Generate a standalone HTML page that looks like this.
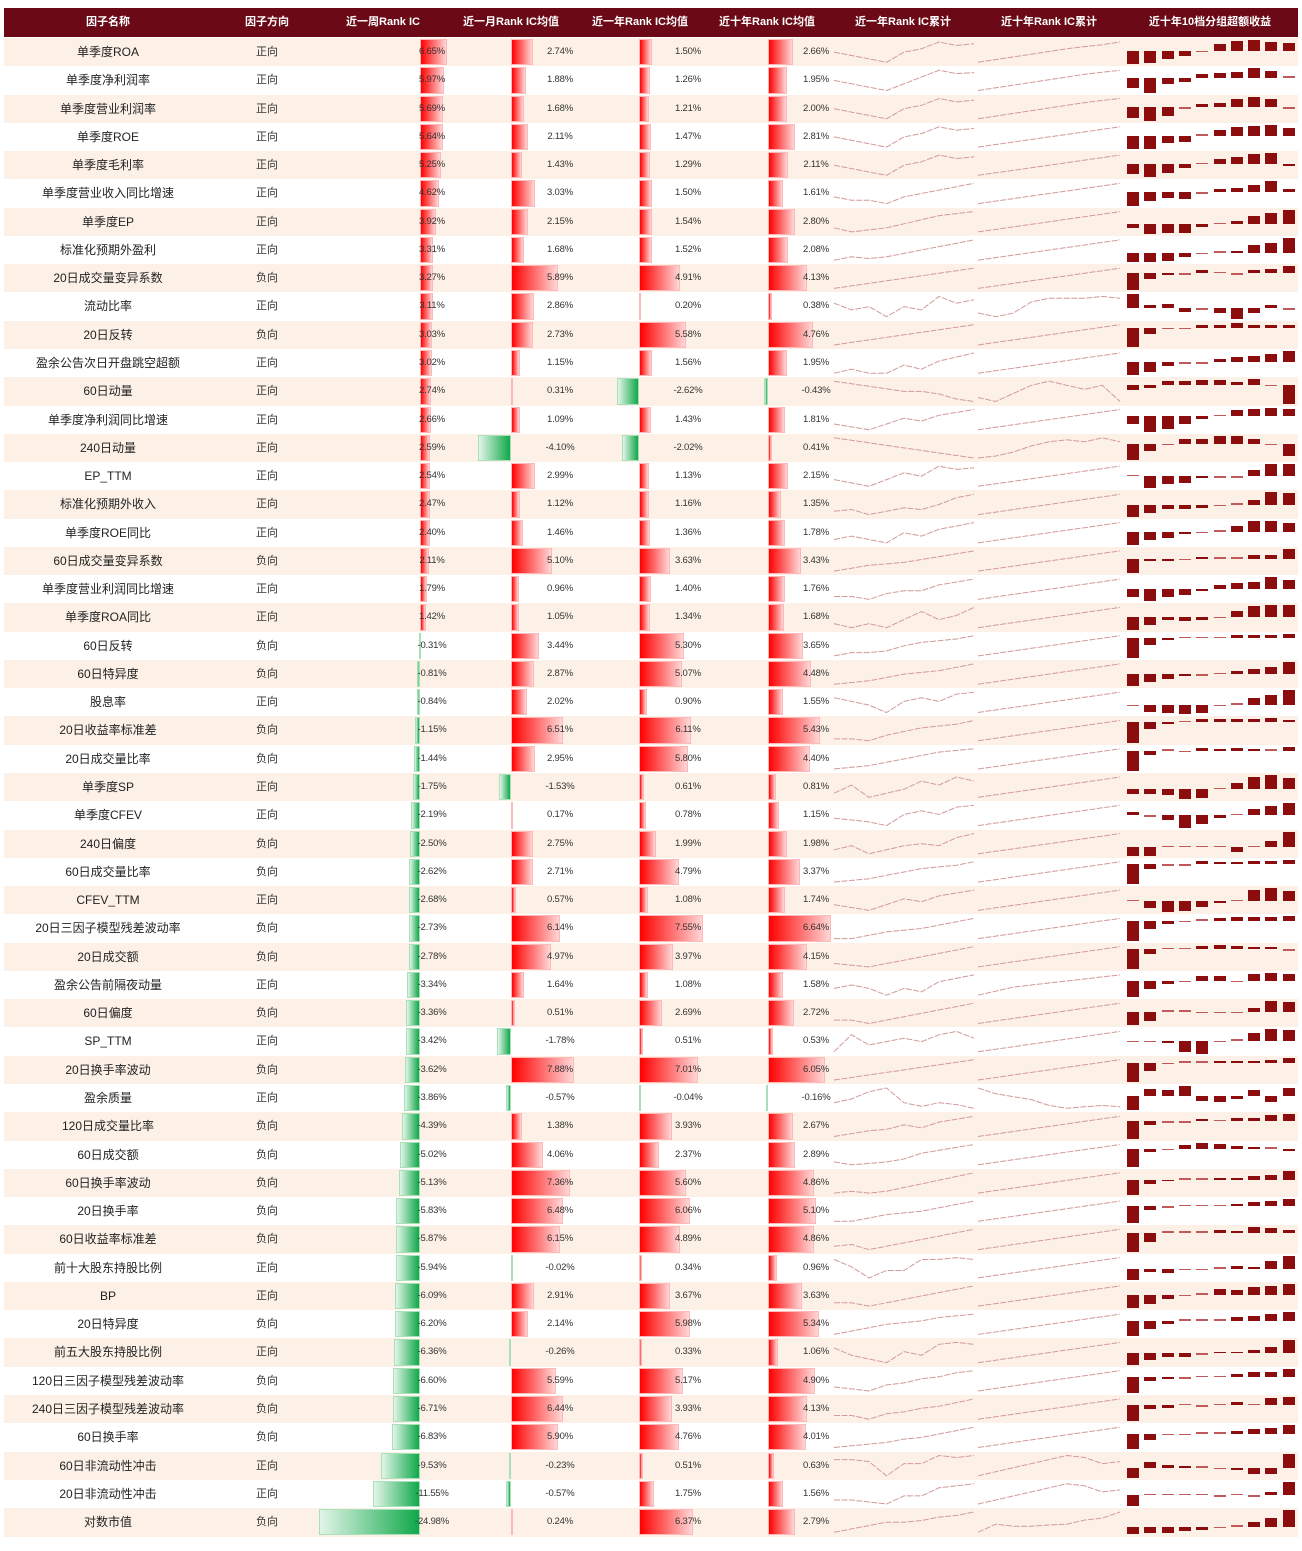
<!DOCTYPE html>
<html><head><meta charset="utf-8">
<style>
html,body{margin:0;padding:0;background:#fff;}
body{width:1302px;height:1551px;position:relative;overflow:hidden;font-family:"Liberation Sans","Noto Sans CJK SC",sans-serif;}
.abs{position:absolute;}
.hdr{position:absolute;left:4px;top:8px;width:1294px;height:29px;background:#6b0a16;}
.ht{position:absolute;top:8px;height:29px;line-height:29px;color:#fff;font-size:11px;font-weight:bold;transform:translateX(-50%);white-space:nowrap;}
.row{position:absolute;left:4px;width:1294px;}
.nm{position:absolute;font-size:12px;color:#222;transform:translateX(-50%);white-space:nowrap;}
.dir{position:absolute;font-size:11px;color:#333;transform:translateX(-50%);white-space:nowrap;}
.val{position:absolute;font-size:9.5px;color:#333;transform:translateX(-50%);white-space:nowrap;letter-spacing:-0.2px;}
.bp{position:absolute;box-sizing:border-box;border:1px solid #ffb8b8;background:linear-gradient(to right,#ff0000,#ffd6d6);}
.bn{position:absolute;box-sizing:border-box;border:1px solid #a8e0b8;background:linear-gradient(to left,#10a84a,#e2f5e8);}
.dec{position:absolute;background:#8c0d0d;}
</style></head>
<body>
<div class="hdr"></div>
<div class="ht" style="left:108px">因子名称</div>
<div class="ht" style="left:267px">因子方向</div>
<div class="ht" style="left:383px">近一周Rank IC</div>
<div class="ht" style="left:511px">近一月Rank IC均值</div>
<div class="ht" style="left:640px">近一年Rank IC均值</div>
<div class="ht" style="left:767px">近十年Rank IC均值</div>
<div class="ht" style="left:903px">近一年Rank IC累计</div>
<div class="ht" style="left:1049px">近十年Rank IC累计</div>
<div class="ht" style="left:1210px">近十年10档分组超额收益</div>
<svg id="spark" class="abs" style="left:0;top:0" width="1302" height="1551"></svg>
<script>
const names=["单季度ROA","单季度净利润率","单季度营业利润率","单季度ROE","单季度毛利率","单季度营业收入同比增速","单季度EP","标准化预期外盈利","20日成交量变异系数","流动比率","20日反转","盈余公告次日开盘跳空超额","60日动量","单季度净利润同比增速","240日动量","EP_TTM","标准化预期外收入","单季度ROE同比","60日成交量变异系数","单季度营业利润同比增速","单季度ROA同比","60日反转","60日特异度","股息率","20日收益率标准差","20日成交量比率","单季度SP","单季度CFEV","240日偏度","60日成交量比率","CFEV_TTM","20日三因子模型残差波动率","20日成交额","盈余公告前隔夜动量","60日偏度","SP_TTM","20日换手率波动","盈余质量","120日成交量比率","60日成交额","60日换手率波动","20日换手率","60日收益率标准差","前十大股东持股比例","BP","20日特异度","前五大股东持股比例","120日三因子模型残差波动率","240日三因子模型残差波动率","60日换手率","60日非流动性冲击","20日非流动性冲击","对数市值"];
const dirs=["正向","正向","正向","正向","正向","正向","正向","正向","负向","正向","负向","正向","正向","正向","正向","正向","正向","正向","负向","正向","正向","负向","负向","正向","负向","负向","正向","正向","负向","负向","正向","负向","负向","正向","负向","正向","负向","正向","负向","负向","负向","负向","负向","正向","正向","负向","正向","负向","负向","负向","正向","正向","负向"];
const weekIC=[6.65,5.97,5.69,5.64,5.25,4.62,3.92,3.31,3.27,3.11,3.03,3.02,2.74,2.66,2.59,2.54,2.47,2.40,2.11,1.79,1.42,-0.31,-0.81,-0.84,-1.15,-1.44,-1.75,-2.19,-2.50,-2.62,-2.68,-2.73,-2.78,-3.34,-3.36,-3.42,-3.62,-3.86,-4.39,-5.02,-5.13,-5.83,-5.87,-5.94,-6.09,-6.20,-6.36,-6.60,-6.71,-6.83,-9.53,-11.55,-24.98];
const monthIC=[2.74,1.88,1.68,2.11,1.43,3.03,2.15,1.68,5.89,2.86,2.73,1.15,0.31,1.09,-4.10,2.99,1.12,1.46,5.10,0.96,1.05,3.44,2.87,2.02,6.51,2.95,-1.53,0.17,2.75,2.71,0.57,6.14,4.97,1.64,0.51,-1.78,7.88,-0.57,1.38,4.06,7.36,6.48,6.15,-0.02,2.91,2.14,-0.26,5.59,6.44,5.90,-0.23,-0.57,0.24];
const yearIC=[1.50,1.26,1.21,1.47,1.29,1.50,1.54,1.52,4.91,0.20,5.58,1.56,-2.62,1.43,-2.02,1.13,1.16,1.36,3.63,1.40,1.34,5.30,5.07,0.90,6.11,5.80,0.61,0.78,1.99,4.79,1.08,7.55,3.97,1.08,2.69,0.51,7.01,-0.04,3.93,2.37,5.60,6.06,4.89,0.34,3.67,5.98,0.33,5.17,3.93,4.76,0.51,1.75,6.37];
const decadeIC=[2.66,1.95,2.00,2.81,2.11,1.61,2.80,2.08,4.13,0.38,4.76,1.95,-0.43,1.81,0.41,2.15,1.35,1.78,3.43,1.76,1.68,3.65,4.48,1.55,5.43,4.40,0.81,1.15,1.98,3.37,1.74,6.64,4.15,1.58,2.72,0.53,6.05,-0.16,2.67,2.89,4.86,5.10,4.86,0.96,3.63,5.34,1.06,4.90,4.13,4.01,0.63,1.56,2.79];
const yearCum=[[3,2,1,0,3,4,6,5,5.5],[3,2,1,0,2,4,6,5,5.3],[3,2,1,0,3,4,6,5,5.5],[3,2,1,0,3,4,6,5,5.5],[3,2,1,0,3,4,6,5,5.5],[2,1,1,0,2,3,4,5,6],[1,0,0.5,1,2,3,4,4.5,5],[0,1,0.5,1,2,3,4,5,6],[0,1,2,3,4,5,6,7,8],[4,2,3,0,3,2,6,4,5],[0,1,2,3,4,5,6,7,8],[1,2,1,1,3,2,4,5,6],[8,7,6,5,4,4,3,1,0],[2,1,0,2,4,3,5,6,7],[8,7,6,5,4,3,2,1,0],[2,1,0,2,4,3,6,5,5.5],[1,1.5,0,1,2,1.5,3,5,6],[1,2,1,0,3,2,4,5,6],[0,1,2,2.5,3,4,5,6,7],[1,1,0,2,3,3,5,6,7],[2,1,2,1,3,5,3,4,6],[0,1,1,1.5,3,4,4.5,5,6],[0,0.5,1,2,3,3.5,4,5,6],[4,3,2,0,3,4,3,5,5.5],[1,1,0.5,2,3,4,4.5,5,6],[0,0.5,1,2,3,4,5,5.5,6],[1,3,0,1,2,4,3,5,4],[2,1.5,1,0,3,4,3,5,5.5],[1,2,0,1,2,2.5,2,4,5],[0,0.5,1,2,3,4,4.5,5,6],[2,1,0,2,4,3,5,6,7],[0,0,1,2,2.5,3,4,5,6],[1,0.5,0,1,2,3,4,5,6],[2,3,2,0,2,1,4,5,6],[1,1,0,1,2,3,4,5,6],[0,5,2,3,4,3,5,6,4],[0,1,2,3,4,5,6,7,8],[2,3,5,6,2,1,2,1.5,0.5],[0,1,2,2.5,4,3,5,6,7],[1,0,0.5,1,2,4,5,6,7],[0.5,1,0.5,1,2,3,4,5,6],[0,0,1,2,2.5,3,4,5,6],[1,1.5,0,1,2,3,4,5,6],[5,3,0,2,2,5,5,5.5,5],[1,1,0,1,2,3,4,5,6],[0,1,2,3,3.5,4,5,5.5,6],[4,2,1,0,3,2,5,5.5,5],[1,0.5,0,1.5,2,3,3.5,4.5,5],[1,1,0,1.5,2,3,3.5,4.5,5.5],[0,0.5,1,1.5,2.5,3,4,5,6],[4,4,3.5,0,3,3,5,4.5,5],[1,1,0.5,0,2,2,4,4.5,5],[0,1,2,3,3,3.5,4.5,5,6]];
const decadeCum=[[0,1,2,3,4,5,5.8,6.5,7.5],[0,1,2,3,4,5,6,6.8,7.5],[0,1,2,3,4,5,6,6.8,7.5],[0,1,2,3,4,5,6,7,8],[0,1,2,3,4,5,6,7,8],[0,1,2,3,4,5,6,7,8],[0,1,2,3,4,5,6,7,8],[0,1,2,3,4,5,6,7,8],[0,1,2,3,4,5,6,7,8],[1,0,1,4,5,5,5,5.5,5],[0,1,2,3,4,5,6,7,8],[0,1,2,3,4,5,6,7,8],[1,0,2,4,5,4,3,4,0],[0,1,2,3,4,5,6,7,8],[0,0.5,1.5,3,4,4.5,4,5,4],[0,1,2,3,4,5,6,7,8],[0,1,2,3,4,5,6,7,8],[0,1,2,3,4,5,6,7,8],[0,1,2,3,4,5,6,7,8],[0,1,2,3,4,5,6,7,8],[0,1,2,3,4,5,6,7,8],[0,1,2,3,4,5,6,7,8],[0,1,2,3,4,5,6,7,8],[0,1,2,3,4,5,6,7,8],[0,1,2,3,4,5,6,7,8],[0,1,2,3,4,5,6,7,8],[0,1,2,3,4,5,6,7,8],[0,1,2,3,4,5,6,7,8],[0,1,2,3,4,5,6,7,8],[0,1,2,3,4,5,6,7,8],[0,1,2,3,4,5,6,7,8],[0,1,2,3,4,5,6,7,8],[0,1,2,3,4,5,6,7,8],[0,1,2,2.5,3,3.5,4,4.5,5],[0,1,2,3,4,5,6,7,8],[0,1,2,3,4,5,6,7,8],[0,1,2,3,4,5,6,7,8],[8,6,5,4,2,1,1.5,2,1.5],[0,1,2,3,4,5,6,7,8],[0,1,2,3,4,5,6,7,8],[0,1,2,3,4,5,6,7,8],[0,1,2,3,4,5,6,7,8],[0,1,2,3,4,5,6,7,8],[0,1,2,3,4,5,6,7,8],[0,1,2,3,4,5,6,7,8],[0,1,2,3,4,5,6,7,8],[0,1,2,3,4,5,6,7,8],[0,1,2,3,4,5,6,7,8],[0,1,2,3,4,5,6,7,8],[0,1,2,3,4,5,6,7,8],[0,1,2,3,4,5,4.5,3,3.5],[0,1,2,3,4,5,4.5,3,3.5],[0,2,1.5,1.5,1.8,2,3,3.5,5]];
const decile=[[-13,-12,-8,-5,-1,6,9,10,8,7],[-10,-15,-6,-4,4,5,6,10,7,1],[-10,-13,-8,-1,3,4,8,10,8,-1],[-13,-13,-7,-6,0,6,9,10,11,8],[-10,-13,-9,-4,1,5,7,10,11,-2],[-13,-8,-5,-6,-1,3,4,7,11,3],[-3,-8,-7,-7,-2,1,3,7,9,12],[-9,-9,-8,-4,-1,0,2,7,9,14],[-17,-6,-2,-1,3,0,-1,3,4,7],[13,3,4,-4,-1,-5,-10,-5,3,-1],[-18,-6,-1,-1,3,3,5,3,3,3],[-13,-10,-4,-1,-1,3,5,6,8,11],[-5,-3,3,3,4,4,2,5,-1,-18],[-6,-12,-10,-6,-2,1,5,6,7,6],[-17,-8,-1,5,5,8,8,5,-1,-13],[0,-12,-8,-7,-2,-1,-1,6,12,12],[-11,-8,-4,-4,-3,-1,1,5,12,11],[-12,-8,-6,-2,-1,1,5,10,10,8],[-15,-2,-3,-1,2,0,0,4,4,10],[-8,-12,-8,-6,-2,4,5,6,11,8],[-13,-8,-3,-4,-3,-1,5,10,11,11],[-18,-6,-2,1,1,1,3,3,3,4],[-12,-8,-5,-2,-1,1,3,5,7,12],[-1,-7,-8,-10,-8,-1,1,7,10,15],[-22,-7,-2,1,3,3,3,3,4,2],[-20,-4,0,-1,3,2,3,2,1,4],[-5,-5,-6,-10,-9,0,6,12,14,11],[3,-1,-5,-12,-8,-3,0,6,9,12],[-9,-9,0,0,1,0,-5,1,6,16],[-18,-4,-1,-1,3,2,2,3,3,4],[0,-7,-11,-10,-6,-2,1,11,13,10],[-19,-8,-3,-1,1,2,3,3,3,4],[-17,-4,0,1,3,4,3,2,2,-1],[-17,-9,-3,-1,5,5,-1,7,8,7],[-14,-9,1,1,-1,-1,-1,4,11,10],[-1,-1,-2,-11,-13,-1,1,7,11,10],[-18,-8,-1,0,0,2,2,2,3,5],[-15,7,6,10,-5,-7,-3,6,-7,8],[-17,-4,-1,-1,2,1,3,3,6,7],[-18,-3,-1,4,6,5,3,2,1,-2],[-16,-5,-2,0,0,2,2,4,5,9],[-16,-3,-1,0,1,1,2,4,5,7],[-17,-8,0,1,1,3,2,5,4,3],[-10,-3,-4,-1,-1,1,3,2,7,12],[-12,-8,-4,-1,0,5,4,7,8,10],[-15,-8,-3,0,0,1,3,4,6,8],[-12,-7,-4,-4,-1,2,2,4,7,14],[-15,-4,-2,-1,0,0,3,5,5,8],[-15,-3,-2,0,-1,1,3,1,7,8],[-15,-6,-1,-1,0,1,3,4,5,8],[-10,6,3,2,0,-1,-2,-6,-6,14],[-11,0,0,0,1,-1,0,-1,3,14],[-8,-7,-7,-5,-4,-1,0,5,9,17]];

const ROW_TOP=38, ROW_H=28.27;
const rowY=i=>ROW_TOP+i*ROW_H;
// axis functions
const xWeek=v=>420+v*4.04;
const xMonth=v=>511+v*8.0;
const xYear=v=>639+v*8.45;
const xDecade=v=>768+v*9.5;
const fmt=v=>v.toFixed(2)+"%";
const NS="http://www.w3.org/2000/svg";
const svg=document.getElementById('spark');

function bar(x0fn,v,top,name){
  const z=x0fn(0), e=x0fn(v);
  const d=document.createElement('div');
  d.className=v>=0?'bp':'bn';
  d.style.left=Math.min(z,e)+'px';
  d.style.width=Math.max(1.5,Math.abs(e-z))+'px';
  d.style.top=(top+1)+'px';
  d.style.height=(ROW_H-2)+'px';
  
  
  document.body.appendChild(d);
}
function label(x,top,txt,cls,name){
  const d=document.createElement('div');
  d.className=cls;
  d.textContent=txt;
  d.style.left=x+'px';
  d.style.top=top+'px';
  d.style.lineHeight=ROW_H+'px';
  
  
  document.body.appendChild(d);
}
function spark(arr,x0,x1,top,name){
  const mn=Math.min(...arr), mx=Math.max(...arr), r=(mx-mn)||1;
  const pts=arr.map((v,k)=>{
    const x=x0+(x1-x0)*k/(arr.length-1);
    const y=top+ROW_H-4-(v-mn)/r*(ROW_H-8);
    return x.toFixed(1)+','+y.toFixed(1);
  });
  const pl=document.createElementNS(NS,'polyline');
  pl.setAttribute('points',pts.join(' '));
  pl.setAttribute('fill','none');
  pl.setAttribute('stroke','#d29a9a');
  pl.setAttribute('stroke-width','1');
  pl.setAttribute('stroke-dasharray','6 1.5');
  
  
  svg.appendChild(pl);
}
function deciles(vals,top,i){
  const mx=Math.max(0,...vals), mn=Math.min(0,...vals);
  const k=(ROW_H-4)/((mx-mn)||1);
  const base=top+2+mx*k;
  vals.forEach((v,j)=>{
    const d=document.createElement('div');
    d.className='dec';
    const h=Math.max(1.5,Math.abs(v)*k);
    d.style.left=(1127+j*17.3)+'px';
    d.style.width='12px';
    d.style.top=(v>=0?base-h:base)+'px';
    d.style.height=h+'px';
    if(Math.abs(v)<=1)d.style.background='#c05a5a';
    
    
    document.body.appendChild(d);
  });
}
names.forEach((n,i)=>{
  const top=rowY(i);
  const rw=document.createElement('div');
  rw.className='row';
  rw.style.top=top+'px';
  rw.style.height=(ROW_H+0.5)+'px';
  rw.style.background=i%2===0?'#fdf1e7':'#ffffff';
  
  
  document.body.appendChild(rw);
  label(108,top,n,'nm','factor-name-'+(i+1));
  label(267,top,dirs[i],'dir','factor-direction-'+(i+1));
  bar(xWeek,weekIC[i],top,'week-ic-bar-'+(i+1));
  bar(xMonth,monthIC[i],top,'month-ic-bar-'+(i+1));
  bar(xYear,yearIC[i],top,'year-ic-bar-'+(i+1));
  bar(xDecade,decadeIC[i],top,'decade-ic-bar-'+(i+1));
  label(432,top,fmt(weekIC[i]),'val','week-ic-value-'+(i+1));
  label(560,top,fmt(monthIC[i]),'val','month-ic-value-'+(i+1));
  label(688,top,fmt(yearIC[i]),'val','year-ic-value-'+(i+1));
  label(816,top,fmt(decadeIC[i]),'val','decade-ic-value-'+(i+1));
  spark(yearCum[i],834,974,top,'year-cum-line-'+(i+1));
  spark(decadeCum[i],978,1120,top,'decade-cum-line-'+(i+1));
  deciles(decile[i],top,i);
});
document.body.appendChild(svg);
</script>
</body></html>
